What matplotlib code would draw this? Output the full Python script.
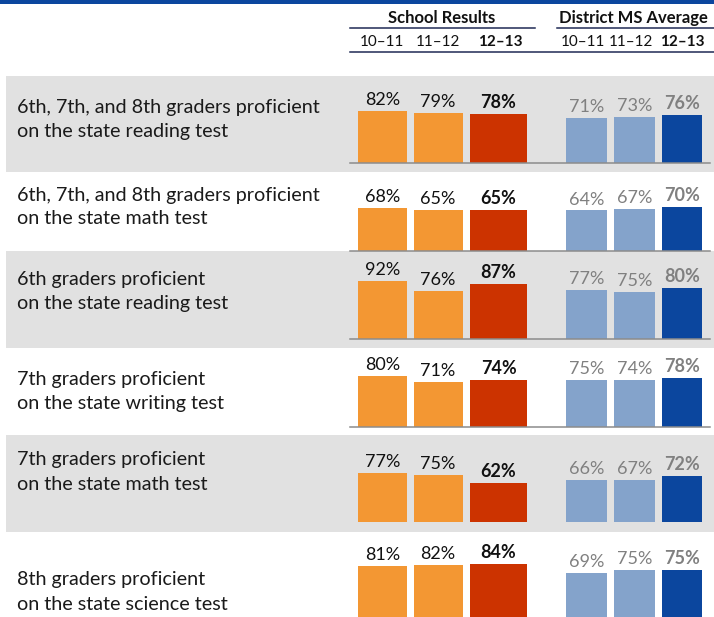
import matplotlib
matplotlib.use("Agg")
import matplotlib.pyplot as plt
from matplotlib.patches import Rectangle

plt.rcParams['font.family'] = ['Lato', 'DejaVu Sans']

# data
categories = [
    "6th, 7th, and 8th graders proficient\non the state reading test",
    "6th, 7th, and 8th graders proficient\non the state math test",
    "6th graders proficient\non the state reading test",
    "7th graders proficient\non the state writing test",
    "7th graders proficient\non the state math test",
    "8th graders proficient\non the state science test",
]
years = ["10–11", "11–12", "12–13"]
school_1011 = [82, 68, 92, 80, 77, 81]
school_1112 = [79, 65, 76, 71, 75, 82]
school_1213 = [78, 65, 87, 74, 62, 84]
district_1011 = [71, 64, 77, 75, 66, 69]
district_1112 = [73, 67, 75, 74, 67, 75]
district_1213 = [76, 70, 80, 78, 72, 75]

# layout (pixels)
W, H = 714, 617
baselines = [163, 251, 339, 427, 522, 617]
gray_rows = [(76, 172), (251, 348), (435, 532)]
label_y = [120, 207, 292, 392, 472, 592]
bar_x = [382.5, 438, 498.5, 586.5, 634.5, 682]
bar_w = [49, 49, 57, 41, 41, 40]
bar_colors = ['#F39733', '#F39733', '#CC3300', '#84A3CB', '#84A3CB', '#0B469E']
PX_PER_PCT = 0.633
ROW_H = 75

fig = plt.figure(figsize=(W / 100, H / 100), dpi=100)

bg = fig.add_axes([0, 0, 1, 1])
bg.set_xlim(0, W)
bg.set_ylim(H, 0)
bg.axis('off')

# top rule
bg.add_patch(Rectangle((0, 0), W, 3.5, color='#0B469E', lw=0))
for top, bot in gray_rows:
    bg.add_patch(Rectangle((6, top), W - 6, bot - top, color='#E1E1E1', lw=0))

# headers
navy = '#1F2A55'
bg.text(442, 18, "School Results", ha='center', va='center', fontsize=12,
        fontweight='bold', color='#111111')
bg.text(633, 18, "District MS Average", ha='center', va='center', fontsize=12,
        fontweight='bold', color='#111111')
bg.plot([350, 535], [27.5, 27.5], color=navy, lw=1.1)
bg.plot([557, 714], [27.5, 27.5], color=navy, lw=1.1)
bg.plot([350, 714], [51.5, 51.5], color=navy, lw=1.1)
head_x = [382, 438, 500, 583, 631, 682]
for i, hx in enumerate(head_x):
    yr = years[i % 3]
    bg.text(hx, 42, yr, ha='center', va='center', fontsize=11,
            fontweight='bold' if i % 3 == 2 else 'normal', color='#111111')

for cat, ly in zip(categories, label_y):
    bg.text(17, ly, cat, ha='left', va='center', fontsize=14.2,
            color='#1a1a1a', linespacing=1.5)

series = [school_1011, school_1112, school_1213,
          district_1011, district_1112, district_1213]

for r, base in enumerate(baselines):
    ax = fig.add_axes([0, 1 - base / H, 1, ROW_H / H])
    ax.set_xlim(0, W)
    ax.set_ylim(0, ROW_H / PX_PER_PCT)
    ax.axis('off')
    for j in range(6):
        v = series[j][r]
        ax.bar(bar_x[j], v, width=bar_w[j], color=bar_colors[j], lw=0)
        col = '#111111' if j < 3 else '#808080'
        ax.annotate(f"{v}%", (bar_x[j], v), xytext=(0, 4.3),
                    textcoords='offset points', ha='center', va='baseline',
                    fontsize=13, color=col, annotation_clip=False,
                    fontweight='bold' if j % 3 == 2 else 'normal')
    if r < 4:
        ax.plot([350, 710], [0, 0], color='#8C8C8C', lw=1.1, clip_on=False)

fig.savefig('out.png', dpi=100)
